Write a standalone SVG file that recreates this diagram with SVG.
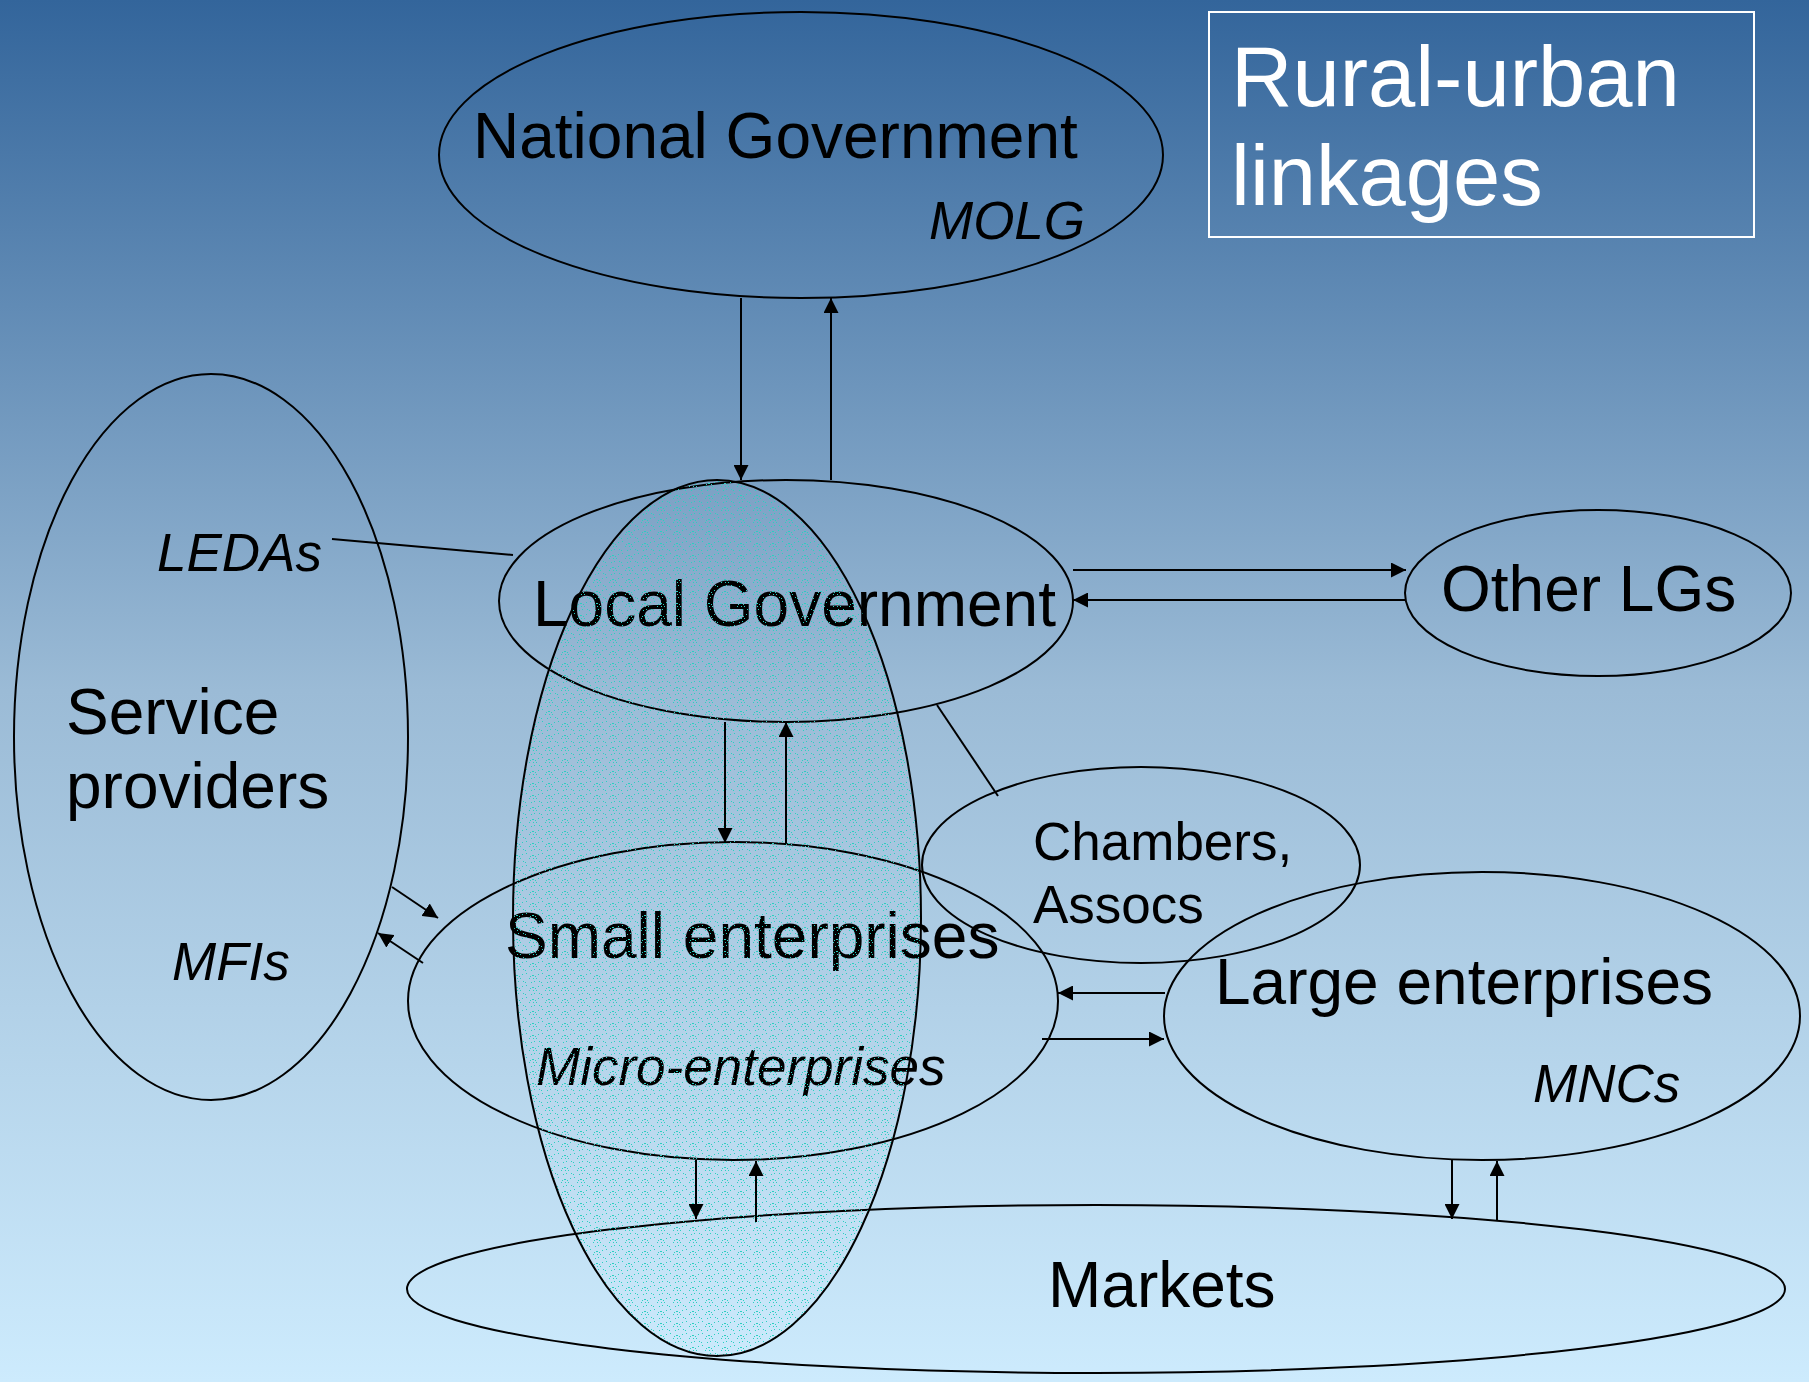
<svg xmlns="http://www.w3.org/2000/svg" width="1809" height="1382" viewBox="0 0 1809 1382">
<defs>
<linearGradient id="bg" x1="0" y1="0" x2="0" y2="1">
<stop offset="0" stop-color="#33659b"/>
<stop offset="0.5" stop-color="#9bbbd6"/>
<stop offset="1" stop-color="#cdebfd"/>
</linearGradient>
<pattern id="dots" width="16" height="12" patternUnits="userSpaceOnUse">
<rect x="1" y="6" width="1" height="1" fill="#2ccfc0"/>
<rect x="2" y="4" width="1" height="1" fill="#2ccfc0"/>
<rect x="4" y="3" width="2" height="1" fill="#2ccfc0"/>
<rect x="7" y="4" width="1" height="1" fill="#2ccfc0"/>
<rect x="8" y="6" width="1" height="1" fill="#2ccfc0"/>
<rect x="5" y="6" width="1" height="1" fill="#2ccfc0"/>
<rect x="11" y="9" width="1" height="1" fill="#2ccfc0"/>
<rect x="13" y="10" width="1" height="1" fill="#2ccfc0"/>
<rect x="14" y="1" width="1" height="1" fill="#2ccfc0"/>
<rect x="10" y="2" width="1" height="1" fill="#2ccfc0"/>
<rect x="3" y="10" width="1" height="1" fill="#2ccfc0"/>
<rect x="6" y="9" width="1" height="1" fill="#2ccfc0"/>
</pattern>
<marker id="ah" viewBox="0 0 15 15" refX="15" refY="7.5" markerWidth="15" markerHeight="15" markerUnits="userSpaceOnUse" orient="auto">
<path d="M0,0 L15,7.5 L0,15 Z" fill="#000"/>
</marker>
</defs>
<style>
.n{fill:none;stroke:#000;stroke-width:2}
.t{font-family:"Liberation Sans",Arial,sans-serif;font-size:64px;fill:#000}
.i{font-family:"Liberation Sans",Arial,sans-serif;font-size:53px;font-style:italic;fill:#000}
.s{font-family:"Liberation Sans",Arial,sans-serif;font-size:53px;fill:#000}
.c{fill:none;stroke:#000;stroke-width:2}
.a{fill:none;stroke:#000;stroke-width:2;marker-end:url(#ah)}
</style>
<rect x="0" y="0" width="1809" height="1382" fill="url(#bg)"/>

<g id="title">
<rect x="1209" y="12" width="545" height="225" fill="none" stroke="#fff" stroke-width="2"/>
<text x="1231" y="106" font-family="'Liberation Sans',Arial,sans-serif" font-size="85" fill="#fff">Rural-urban</text>
<text x="1231" y="205" font-family="'Liberation Sans',Arial,sans-serif" font-size="85" fill="#fff">linkages</text>
</g>

<g id="national-government">
<ellipse class="n" cx="801" cy="155" rx="362" ry="143"/>
<text class="t" x="473" y="158">National Government</text>
<text class="i" x="929" y="239">MOLG</text>
</g>

<g id="service-providers">
<ellipse class="n" cx="211" cy="737" rx="197" ry="363"/>
<text class="t" x="66" y="734">Service</text>
<text class="t" x="66" y="808">providers</text>
<text class="i" x="157" y="571">LEDAs</text>
<text class="i" x="172" y="980">MFIs</text>
</g>

<g id="local-government">
<ellipse class="n" cx="786" cy="601" rx="287" ry="121"/>
<text class="t" x="533" y="626">Local Government</text>
</g>

<g id="other-lgs">
<ellipse class="n" cx="1598" cy="593" rx="193" ry="83"/>
<text class="t" x="1441" y="611">Other LGs</text>
</g>

<g id="chambers">
<ellipse class="n" cx="1141" cy="865" rx="219" ry="98"/>
<text class="s" x="1033" y="860">Chambers,</text>
<text class="s" x="1033" y="923">Assocs</text>
</g>

<g id="small-enterprises">
<ellipse class="n" cx="733" cy="1001" rx="325" ry="159"/>
<text class="t" x="505" y="958">Small enterprises</text>
<text class="i" x="536" y="1085">Micro-enterprises</text>
</g>

<g id="large-enterprises">
<ellipse class="n" cx="1482" cy="1016" rx="318" ry="144"/>
<text class="t" x="1215" y="1004">Large enterprises</text>
<text class="i" x="1533" y="1102">MNCs</text>
</g>

<g id="markets">
<ellipse class="n" cx="1096" cy="1289" rx="689" ry="84"/>
<text class="t" x="1048" y="1307">Markets</text>
</g>

<g id="rural-urban-zone">
<ellipse cx="717" cy="918" rx="204" ry="438" fill="url(#dots)" stroke="#000" stroke-width="2"/>
</g>

<g id="connectors">
<line class="a" x1="741" y1="298" x2="741" y2="480"/>
<line class="a" x1="831" y1="480" x2="831" y2="298"/>
<line class="a" x1="1073" y1="570" x2="1406" y2="570"/>
<line class="a" x1="1406" y1="600" x2="1073" y2="600"/>
<line class="c" x1="332" y1="539" x2="513" y2="555"/>
<line class="c" x1="937" y1="705" x2="998" y2="796"/>
<line class="a" x1="725" y1="722" x2="725" y2="843"/>
<line class="a" x1="786" y1="843" x2="786" y2="722"/>
<line class="a" x1="392" y1="887" x2="438" y2="918"/>
<line class="a" x1="423" y1="963" x2="378" y2="933"/>
<line class="a" x1="1165" y1="993" x2="1058" y2="993"/>
<line class="a" x1="1042" y1="1039" x2="1164" y2="1039"/>
<line class="a" x1="696" y1="1160" x2="696" y2="1219"/>
<line class="a" x1="756" y1="1222" x2="756" y2="1161"/>
<line class="a" x1="1452" y1="1159" x2="1452" y2="1219"/>
<line class="a" x1="1497" y1="1221" x2="1497" y2="1161"/>
</g>
</svg>
